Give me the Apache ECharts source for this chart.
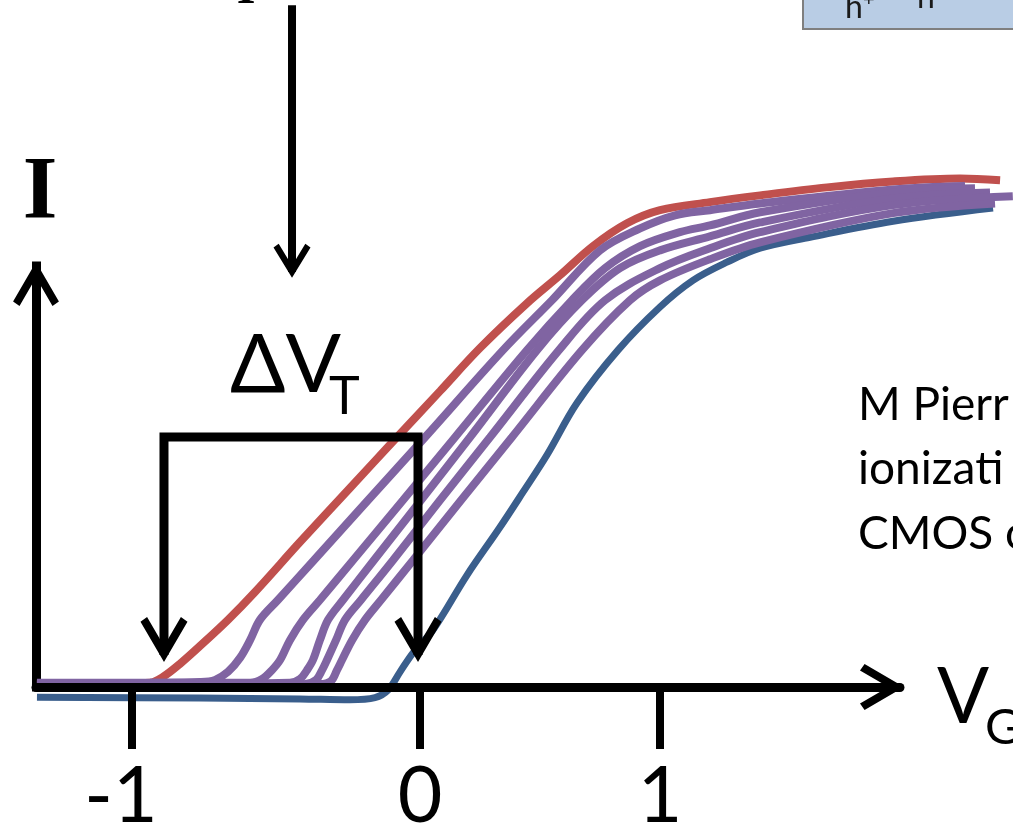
<!DOCTYPE html>
<html><head><meta charset="utf-8">
<script src="https://cdn.jsdelivr.net/npm/echarts@6/dist/echarts.min.js"></script>
<style>html,body{margin:0;padding:0;background:#fff}#c{width:1013px;height:836px}</style>
</head><body><div id="c"></div>
<script>
// ---- data (gate voltage V_G, drain current I in arbitrary units) ----
const tickPositions = [-1.2, 0, 1];
const tickLabels = ['-1', '0', '1'];

const redCurve = [[-1.596,0.021],[-1.333,0.021],[-1.125,0.024],[-1.071,0.038],[-1.0,0.069],[-0.917,0.111],[-0.8,0.173],[-0.6875,0.239],[-0.5,0.357],[-0.2917,0.485],[-0.104,0.600],[0.0833,0.714],[0.25,0.816],[0.446,0.922],[0.583,0.988],[0.721,1.057],[0.8625,1.111],[1.0,1.142],[1.208,1.161],[1.417,1.177],[1.696,1.196],[1.971,1.210],[2.25,1.217],[2.417,1.213]];

const blueCurve = [[-1.596,-0.010],[-0.917,-0.012],[-0.5,-0.014],[-0.292,-0.016],[-0.1875,-0.011],[-0.133,0.007],[-0.083,0.050],[-0.029,0.095],[0.054,0.149],[0.196,0.279],[0.333,0.392],[0.429,0.475],[0.529,0.563],[0.654,0.686],[0.825,0.811],[1.0,0.913],[1.1375,0.976],[1.279,1.019],[1.417,1.052],[1.625,1.078],[1.971,1.116],[2.3875,1.147]];

const purpleCurve1 = [[-1.596,0.021],[-1.125,0.024],[-0.917,0.026],[-0.854,0.031],[-0.8,0.050],[-0.75,0.083],[-0.708,0.125],[-0.667,0.173],[-0.592,0.220],[-0.442,0.314],[-0.2167,0.456],[0.021,0.605],[0.346,0.811],[0.55,0.929],[0.75,1.047],[0.917,1.099],[1.0625,1.130],[1.208,1.142],[1.417,1.158],[1.971,1.191],[2.271,1.199]];

const purpleCurve2 = [[-1.596,0.024],[-0.708,0.024],[-0.658,0.033],[-0.617,0.054],[-0.583,0.078],[-0.542,0.125],[-0.4875,0.173],[-0.417,0.220],[-0.279,0.314],[-0.071,0.456],[0.146,0.605],[0.446,0.811],[0.633,0.929],[0.771,1.005],[0.917,1.057],[1.083,1.090],[1.208,1.106],[1.417,1.137],[1.971,1.184],[2.3125,1.194]];

const purpleCurve3 = [[-1.596,0.019],[-0.542,0.024],[-0.5,0.033],[-0.471,0.054],[-0.446,0.078],[-0.417,0.125],[-0.383,0.173],[-0.321,0.220],[-0.192,0.314],[0.004,0.456],[0.2083,0.605],[0.4875,0.811],[0.675,0.929],[0.833,1.005],[1.0,1.047],[1.208,1.080],[1.417,1.113],[1.971,1.170],[2.375,1.184]];

const purpleCurve4 = [[-1.596,0.019],[-0.479,0.021],[-0.433,0.031],[-0.408,0.054],[-0.3875,0.078],[-0.35,0.125],[-0.3125,0.173],[-0.246,0.220],[-0.1125,0.314],[0.0833,0.456],[0.2917,0.605],[0.579,0.811],[0.771,0.929],[1.0,1.005],[1.208,1.052],[1.417,1.090],[1.971,1.154],[2.47,1.175]];

const purpleCurve5 = [[-1.596,0.017],[-0.4167,0.021],[-0.371,0.028],[-0.346,0.054],[-0.325,0.078],[-0.283,0.125],[-0.229,0.173],[-0.1625,0.220],[-0.029,0.314],[0.171,0.456],[0.383,0.605],[0.675,0.811],[0.875,0.929],[1.0,0.976],[1.208,1.026],[1.417,1.066],[1.971,1.135],[2.396,1.158]];

// threshold-shift annotation (ΔV_T from about -1.07 V to 0 V)
const deltaVtBracket = [[-1.0667,0.09],[-1.0667,0.6055],[-0.0083,0.6055],[-0.0083,0.09]];
const bracketArrowTips = [[-1.0667,0.0733],[-0.0083,0.0733]];
const topArrowLine = [[-0.5333,1.627],[-0.5333,0.996]];
const topArrowTip = [[-0.5333,0.982]];

const citationLines = ['M Pierr', 'ionizati', 'CMOS c'];

// ---- layout ----
const AXIS_Y = 693, AXIS_X = 36, PX_PER_X = 240, PX_PER_Y = 427 / 1.01;
const X_MIN = -1.6, X_MAX = 2.0, X_MAX_DATA = 2.47, Y_MIN_DATA = -0.1, Y_MAX_DATA = 1.6;

const chevronUp = 'path://M50,0 L100,86 L86,96 L50,34 L14,96 L0,86 Z';
const chevronDown = 'path://M50,100 L100,14 L86,4 L50,66 L14,4 L0,14 Z';
const FONT = 'Lato, "Open Sans", sans-serif';

function curve(data, color, width, z) {
  return {type:'line', xAxisIndex:1, yAxisIndex:1, data, showSymbol:false, smooth:0.35, clip:false, silent:true, z,
    lineStyle:{color, width, cap:'butt'}, itemStyle:{color}};
}
function txt(text, x, y, size, opts) {
  opts = opts || {};
  return {type:'text', x, y, z:10, silent:true, style:{text, fill: opts.fill || '#000',
    font: (opts.weight ? opts.weight + ' ' : '') + size + 'px ' + (opts.family || FONT),
    align: opts.align || 'left', verticalAlign:'middle',
    textAlign: opts.align || 'left', textVerticalAlign:'middle'}};
}

const chart = echarts.init(document.getElementById('c'), null, {renderer:'canvas'});
chart.setOption({
  animation:false,
  backgroundColor:'#ffffff',
  grid:[
    {left:AXIS_X, top:266, width:(X_MAX - X_MIN) * PX_PER_X, height:427, containLabel:false},
    {left:AXIS_X, top:AXIS_Y - Y_MAX_DATA * PX_PER_Y, width:(X_MAX_DATA - X_MIN) * PX_PER_X,
     height:(Y_MAX_DATA - Y_MIN_DATA) * PX_PER_Y, containLabel:false}
  ],
  xAxis:[
    {type:'value', gridIndex:0, min:X_MIN, max:X_MAX, z:3,
      splitLine:{show:false},
      axisLine:{onZero:false, lineStyle:{color:'#000', width:9}, symbol:['none', chevronUp], symbolSize:[48,44], symbolOffset:[0,-18]},
      axisTick:{show:true, customValues:tickPositions, length:62, lineStyle:{color:'#000', width:8}},
      axisLabel:{customValues:tickPositions, margin:72, color:'#000', fontSize:77, fontFamily:FONT,
        formatter:function(v){
          const i = tickPositions.findIndex(p => Math.abs(p - v) < 1e-6);
          if (i < 0) return '';
          return i === 0 ? '{neg|' + tickLabels[i] + '}' : tickLabels[i];
        },
        rich:{neg:{fontSize:77, fontFamily:FONT, color:'#000', padding:[0,22,0,0]}}}
    },
    {type:'value', gridIndex:1, min:X_MIN, max:X_MAX_DATA, show:false}
  ],
  yAxis:[
    {type:'value', gridIndex:0, min:0, max:1.01, z:0,
      splitLine:{show:false}, axisTick:{show:false}, axisLabel:{show:false},
      axisLine:{onZero:false, lineStyle:{color:'#000', width:9, cap:'square'}, symbol:['none', chevronUp], symbolSize:[48,44], symbolOffset:[0,-18]}
    },
    {type:'value', gridIndex:1, min:Y_MIN_DATA, max:Y_MAX_DATA, show:false}
  ],
  graphic:[
    {type:'rect', z:1, shape:{x:803, y:-6, width:230, height:35}, style:{fill:'#B9CDE5', stroke:'#7F7F7F', lineWidth:2}},
    txt('h', 845, 7.6, 32, {fill:'#1a1a1a'}),
    txt('+', 863, 0, 20, {fill:'#1a1a1a'}),
    txt('n', 917, -2.4, 32, {fill:'#1a1a1a'}),
    txt('I', 246, -9, 48, {weight:'bold', family:'"Liberation Serif", serif', align:'center'}),
    txt('I', 40, 194, 89, {weight:'bold', family:'"Liberation Serif", serif', align:'center'}),
    txt('ΔV', 230, 366, 82),
    txt('T', 329, 397, 52),
    txt('V', 937, 698, 77),
    txt('G', 985, 728, 49),
    txt(citationLines[0], 858, 405, 46),
    txt(citationLines[1], 858, 469, 46),
    txt(citationLines[2], 858, 534, 46)
  ],
  series:[
    curve(blueCurve, '#3A5E8C', 7, 2),
    curve(redCurve, '#C0504D', 8, 2),
    curve(purpleCurve1, '#8064A2', 8, 2),
    curve(purpleCurve2, '#8064A2', 8, 2),
    curve(purpleCurve3, '#8064A2', 8, 2),
    curve(purpleCurve4, '#8064A2', 8, 2),
    curve(purpleCurve5, '#8064A2', 8, 2),
    {type:'line', xAxisIndex:1, yAxisIndex:1, data:deltaVtBracket, showSymbol:false, smooth:false, clip:false, silent:true, z:5,
      lineStyle:{color:'#000', width:9, join:'miter', cap:'butt'}},
    {type:'line', xAxisIndex:1, yAxisIndex:1, data:topArrowLine, showSymbol:false, smooth:false, clip:false, silent:true, z:5,
      lineStyle:{color:'#000', width:8, cap:'butt'}},
    {type:'scatter', xAxisIndex:1, yAxisIndex:1, data:bracketArrowTips, symbol:chevronDown, symbolSize:[47,45], symbolOffset:[0,'-50%'],
      clip:false, silent:true, z:6, itemStyle:{color:'#000', opacity:1}},
    {type:'scatter', xAxisIndex:1, yAxisIndex:1, data:topArrowTip, symbol:chevronDown, symbolSize:[37,34], symbolOffset:[0,'-50%'],
      clip:false, silent:true, z:6, itemStyle:{color:'#000', opacity:1}}
  ]
});
</script></body></html>
